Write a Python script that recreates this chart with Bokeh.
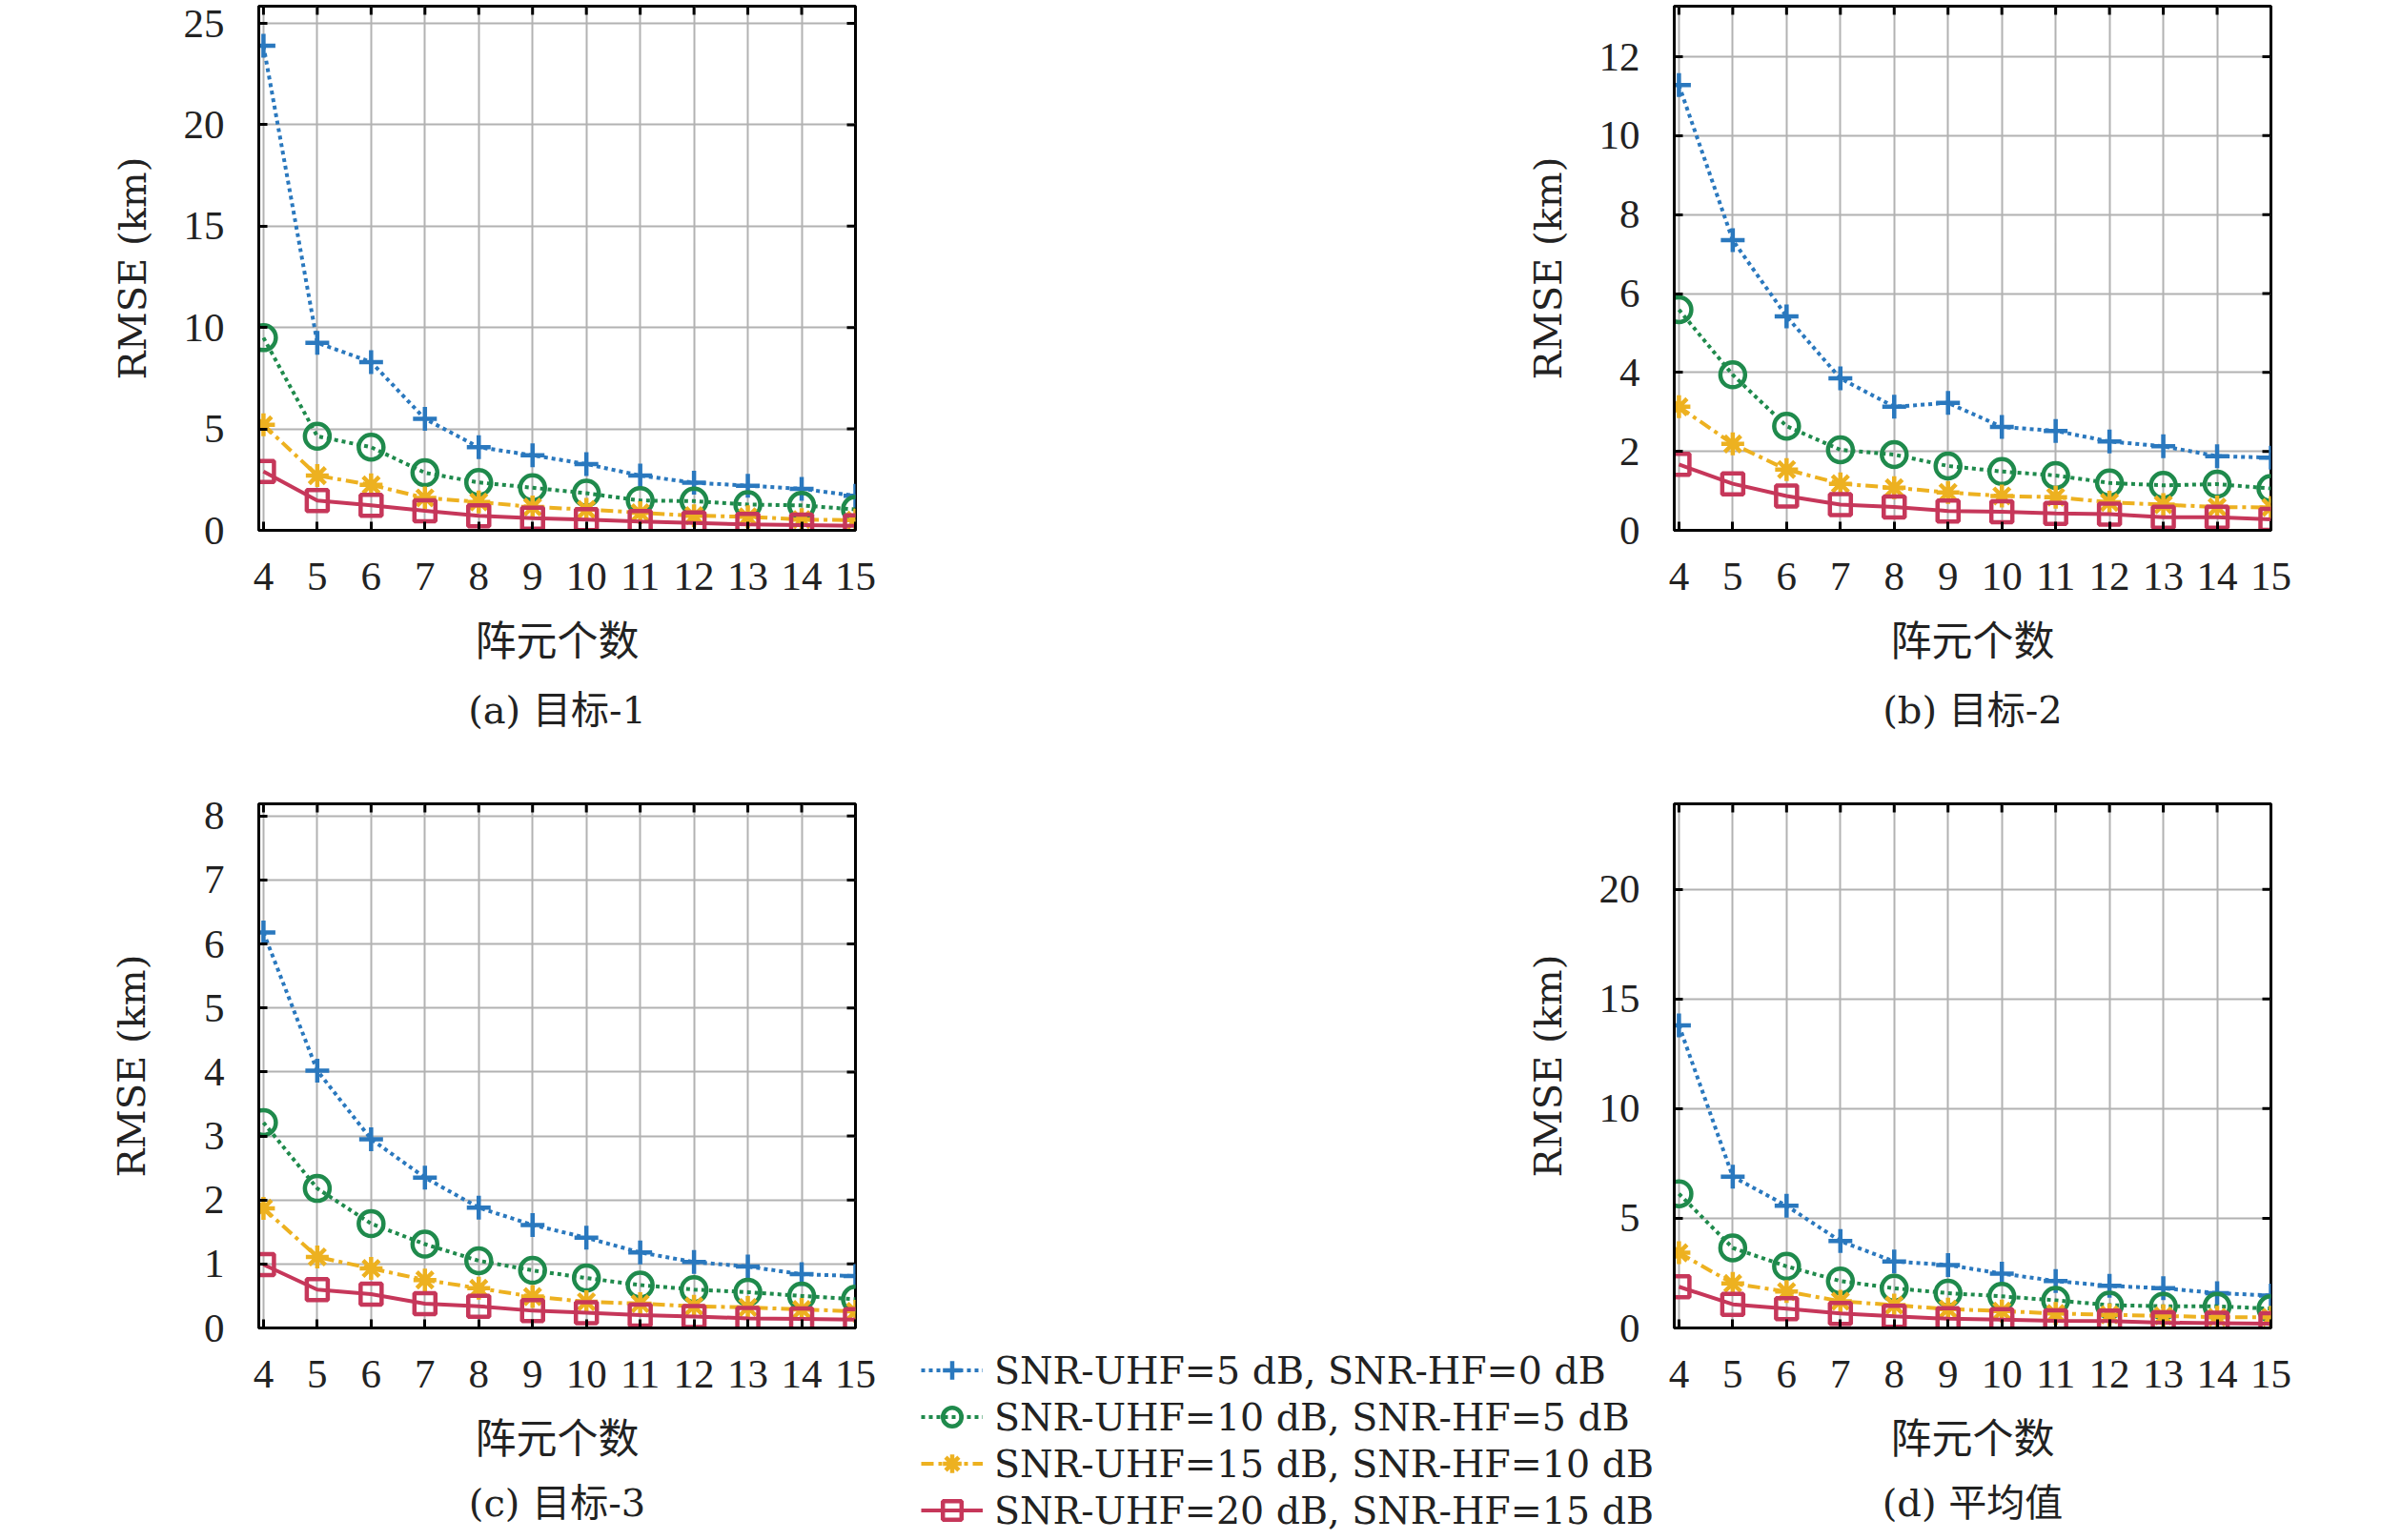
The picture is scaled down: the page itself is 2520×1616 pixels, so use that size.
from math import pi

from bokeh.plotting import figure
from bokeh.models import Range1d, FixedTicker, Title, Legend, LegendItem
from bokeh.layouts import column, row
from bokeh.embed import file_html
from bokeh.resources import INLINE

# 阵元个数
n_elem = [4, 5, 6, 7, 8, 9, 10, 11, 12, 13, 14, 15]

labels = ["SNR-UHF=5 dB, SNR-HF=0 dB",
          "SNR-UHF=10 dB, SNR-HF=5 dB",
          "SNR-UHF=15 dB, SNR-HF=10 dB",
          "SNR-UHF=20 dB, SNR-HF=15 dB"]

# (a) 目标-1
t1_snr5 = [23.9, 9.25, 8.3, 5.5, 4.1, 3.7, 3.27, 2.7, 2.35, 2.2, 2.05, 1.7]
t1_snr10 = [9.5, 4.64, 4.1, 2.84, 2.36, 2.1, 1.83, 1.47, 1.44, 1.27, 1.23, 1.03]
t1_snr15 = [5.2, 2.7, 2.24, 1.6, 1.4, 1.15, 1.03, 0.87, 0.72, 0.67, 0.53, 0.5]
t1_snr20 = [2.9, 1.47, 1.23, 0.96, 0.72, 0.6, 0.53, 0.43, 0.36, 0.29, 0.26, 0.22]

# (b) 目标-2
t2_snr5 = [11.28, 7.35, 5.42, 3.85, 3.13, 3.23, 2.62, 2.52, 2.25, 2.13, 1.88, 1.84]
t2_snr10 = [5.59, 3.94, 2.64, 2.04, 1.92, 1.63, 1.49, 1.39, 1.2, 1.14, 1.17, 1.06]
t2_snr15 = [3.13, 2.19, 1.54, 1.18, 1.08, 0.96, 0.87, 0.84, 0.71, 0.65, 0.59, 0.58]
t2_snr20 = [1.67, 1.18, 0.87, 0.65, 0.59, 0.49, 0.47, 0.43, 0.41, 0.33, 0.33, 0.28]

# (c) 目标-3
t3_snr5 = [6.18, 4.02, 2.95, 2.35, 1.88, 1.61, 1.41, 1.18, 1.03, 0.96, 0.84, 0.81]
t3_snr10 = [3.21, 2.18, 1.63, 1.31, 1.05, 0.9, 0.78, 0.67, 0.6, 0.56, 0.5, 0.45]
t3_snr15 = [1.87, 1.11, 0.93, 0.75, 0.62, 0.49, 0.41, 0.38, 0.34, 0.32, 0.29, 0.26]
t3_snr20 = [0.99, 0.6, 0.53, 0.38, 0.34, 0.27, 0.24, 0.2, 0.18, 0.15, 0.14, 0.13]

# (d) 平均值
avg_snr5 = [13.8, 6.9, 5.57, 3.96, 3.03, 2.87, 2.48, 2.14, 1.92, 1.81, 1.59, 1.48]
avg_snr10 = [6.12, 3.65, 2.81, 2.14, 1.81, 1.59, 1.44, 1.26, 1.04, 0.99, 0.99, 0.88]
avg_snr15 = [3.43, 2.03, 1.66, 1.22, 1.04, 0.86, 0.77, 0.66, 0.6, 0.55, 0.49, 0.49]
avg_snr20 = [1.88, 1.08, 0.88, 0.66, 0.53, 0.42, 0.38, 0.33, 0.31, 0.24, 0.22, 0.2]

FONT = "DejaVu Serif, Noto Sans CJK SC"
TICK_FONT = "Liberation Serif"
INK = "#222222"

# color, dash, marker, marker size, line width
styles = [("#2a78be", "4 4", "cross", 25, 4),
          ("#1f8a4c", "4 4", "circle", 26, 4),
          ("#edb120", "13 5 4 5", "asterisk", 24, 4),
          ("#c6375a", "solid", "square", 22, 4)]


def add_series(p, series):
    items = []
    for ys, lab, (color, dash, marker, size, lw) in zip(series, labels, styles):
        r1 = p.line(n_elem, ys, line_color=color, line_width=lw, line_dash=dash)
        r2 = p.scatter(n_elem, ys, marker=marker, size=size, line_color=color,
                       line_width=4.5, fill_color=None)
        items.append(LegendItem(label=lab, renderers=[r1, r2]))
    return items


def panel(series, ytop, yticks, caption, ylab_standoff, left_border, height, top_border, bottom_border,
          xlab_standoff, cap_standoff):
    width = left_border + 626 + 31
    p = figure(width=width, height=height, output_backend="svg", toolbar_location=None,
               x_range=Range1d(3.913, 15), y_range=Range1d(0, ytop),
               min_border_left=left_border, min_border_right=31,
               min_border_top=top_border, min_border_bottom=bottom_border)
    p.outline_line_color = "black"
    p.outline_line_width = 3
    p.border_fill_alpha = 0
    p.grid.grid_line_color = "#b2b2b2"
    p.grid.grid_line_width = 2
    p.xaxis.ticker = FixedTicker(ticks=n_elem)
    p.yaxis.ticker = FixedTicker(ticks=yticks)
    p.xaxis.axis_label = "阵元个数"
    p.yaxis.axis_label = "RMSE (km)"
    for ax in [p.xaxis[0], p.yaxis[0]]:
        ax.axis_line_width = 3
        ax.major_tick_in = 9
        ax.major_tick_out = 0
        ax.major_tick_line_width = 3
        ax.minor_tick_line_color = None
        ax.major_label_text_font = TICK_FONT
        ax.major_label_text_font_size = "43px"
        ax.major_label_text_color = INK
        ax.axis_label_text_font = FONT
        ax.axis_label_text_font_style = "normal"
        ax.axis_label_text_color = INK
    p.xaxis.axis_label_text_font_size = "43px"
    p.yaxis.axis_label_text_font_size = "40px"
    p.xaxis.major_label_standoff = 34
    p.xaxis.axis_label_standoff = xlab_standoff
    p.yaxis.major_label_standoff = 36
    p.yaxis.axis_label_standoff = ylab_standoff

    # mirrored ticks on the top and right edges (half of each dash is clipped by the frame)
    p.scatter(n_elem, [ytop] * len(n_elem), marker="dash", angle=pi / 2, size=18,
              line_color="black", line_width=3)
    p.scatter([n_elem[-1]] * len(yticks), yticks, marker="dash", size=18,
              line_color="black", line_width=3)

    items = add_series(p, series)

    p.add_layout(Title(text=caption, align="center", text_font=FONT, text_font_size="40px",
                       text_font_style="normal", text_color=INK, standoff=cap_standoff), "below")
    return p, items


pa, _ = panel([t1_snr5, t1_snr10, t1_snr15, t1_snr20], 25.85, [0, 5, 10, 15, 20, 25],
              "(a) 目标-1", 28, 263, 831, 6, 275, 26, 38)
pb, _ = panel([t2_snr5, t2_snr10, t2_snr15, t2_snr20], 13.28, [0, 2, 4, 6, 8, 10, 12],
              "(b) 目标-2", 28, 828, 831, 6, 275, 26, 38)
pc, _ = panel([t3_snr5, t3_snr10, t3_snr15, t3_snr20], 8.19, [0, 1, 2, 3, 4, 5, 6, 7, 8],
              "(c) 目标-3", 50, 263, 785, 12, 223, 26, 28)
pd, _ = panel([avg_snr5, avg_snr10, avg_snr15, avg_snr20], 23.9, [0, 5, 10, 15, 20],
              "(d) 平均值", 28, 828, 785, 12, 223, 26, 28)

# legend canvas sits under the left border of (d)
pl = figure(width=790, height=778, output_backend="svg", toolbar_location=None,
            x_range=Range1d(100, 101), y_range=Range1d(100, 101),
            min_border=0, outline_line_color=None, margin=(0, -828, 0, 38))
pl.frame_align = False
pl.axis.visible = False
pl.grid.visible = False
pl.background_fill_alpha = 0
pl.border_fill_alpha = 0
leg_items = add_series(pl, [avg_snr5, avg_snr10, avg_snr15, avg_snr20])
leg = Legend(items=leg_items, location="bottom_left", glyph_width=65, glyph_height=49,
             label_height=49, spacing=0, padding=0, margin=0, label_standoff=12,
             label_text_font=FONT, label_text_font_size="39.5px", label_text_color=INK,
             background_fill_alpha=0, border_line_alpha=0)
pl.add_layout(leg, "center")

layout = column(row(pa, pb), row(pc, pl, pd), margin=(0, 0, 0, 8))

open("out.html", "w").write(file_html(layout, INLINE))
